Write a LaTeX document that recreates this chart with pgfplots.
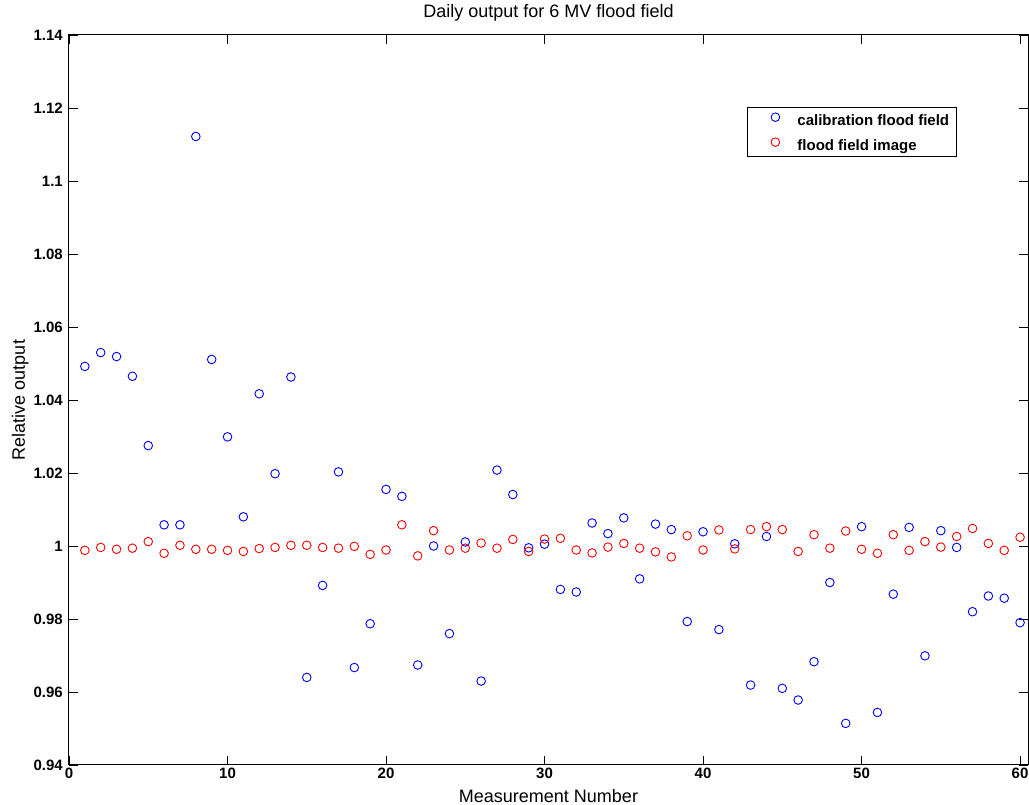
\documentclass[border=0pt]{standalone}
\usepackage{pgfplots}
\pgfplotsset{compat=1.18}
\usepackage{pgfplotstable}
\usepackage{fontspec}
\setmainfont{Liberation Sans}
\pgfplotstableread{
x y
1 1.0492
2 1.0530
3 1.0519
4 1.0465
5 1.0275
6 1.0058
7 1.0058
8 1.1122
9 1.0511
10 1.0299
11 1.0080
12 1.0417
13 1.0198
14 1.0463
15 0.9640
16 0.9892
17 1.0203
18 0.9667
19 0.9787
20 1.0155
21 1.0136
22 0.9674
23 1.0000
24 0.9760
25 1.0011
26 0.9630
27 1.0208
28 1.0141
29 0.9995
30 1.0005
31 0.9881
32 0.9874
33 1.0063
34 1.0034
35 1.0077
36 0.9910
37 1.0060
38 1.0045
39 0.9793
40 1.0039
41 0.9771
42 1.0006
43 0.9619
44 1.0026
45 0.9610
46 0.9578
47 0.9683
48 0.9900
49 0.9514
50 1.0053
51 0.9544
52 0.9868
53 1.0051
54 0.9699
55 1.0042
56 0.9996
57 0.9820
58 0.9863
59 0.9857
60 0.9790
}\calib
\pgfplotstableread{
x y
1 0.9988
2 0.9996
3 0.9991
4 0.9994
5 1.0012
6 0.9980
7 1.0002
8 0.9991
9 0.9991
10 0.9988
11 0.9985
12 0.9993
13 0.9996
14 1.0002
15 1.0002
16 0.9996
17 0.9994
18 0.9999
19 0.9977
20 0.9989
21 1.0058
22 0.9973
23 1.0042
24 0.9989
25 0.9994
26 1.0008
27 0.9994
28 1.0018
29 0.9985
30 1.0019
31 1.0021
32 0.9989
33 0.9981
34 0.9997
35 1.0007
36 0.9994
37 0.9984
38 0.9970
39 1.0028
40 0.9989
41 1.0044
42 0.9992
43 1.0045
44 1.0053
45 1.0045
46 0.9985
47 1.0031
48 0.9994
49 1.0041
50 0.9991
51 0.9980
52 1.0031
53 0.9988
54 1.0012
55 0.9997
56 1.0026
57 1.0048
58 1.0007
59 0.9988
60 1.0024
}\flood
\begin{document}
\begin{tikzpicture}
\begin{axis}[
  scale only axis,
  width=959pt, height=730pt,
  xmin=0, xmax=60.5, ymin=0.94, ymax=1.14,
  xtick={0,10,20,30,40,50,60},
  ytick={0.94,0.96,0.98,1,1.02,1.04,1.06,1.08,1.1,1.12,1.14},
  yticklabels={0.94,0.96,0.98,1,1.02,1.04,1.06,1.08,1.1,1.12,1.14},
  xticklabels={0,10,20,30,40,50,60},
  tick align=inside,
  major tick length=9pt,
  axis line style={black, line width=1pt},
  every tick/.style={black, line width=0.8pt},
  tick label style={font=\fontsize{15}{17}\selectfont\bfseries, inner sep=0pt},
  /pgf/number format/assume math mode=true,
  xticklabel style={anchor=base, yshift=-14pt},
  yticklabel style={anchor=east, xshift=-6pt},
  title={Daily output for 6 MV flood field},
  title style={at={(axis description cs:0.5,1.0164)}, anchor=base, font=\fontsize{18}{21}\selectfont, inner sep=0pt},
  xlabel={Measurement Number},
  xlabel style={at={(axis description cs:0.5,-0.0507)}, anchor=base, font=\fontsize{18}{21}\selectfont, inner sep=0pt},
  ylabel={Relative output},
  ylabel style={at={(axis description cs:-0.0459,0.5)}, anchor=base, rotate=0, font=\fontsize{18}{21}\selectfont, inner sep=0pt},
  legend style={at={(axis description cs:0.707,0.901)}, anchor=north west,
    draw=black, line width=0.8pt, inner xsep=7pt, inner ysep=3pt,
    font=\fontsize{15}{18}\selectfont\bfseries,
    nodes={inner sep=0pt, text height=11pt, text depth=3pt},
    row sep=7pt, column sep=12pt},
  legend cell align=left,
  legend image code/.code={\path[draw=none,fill=none] (-21pt,-3pt) (10pt,11pt); \draw[#1] plot coordinates {(0pt,4.5pt)};},
]
\addplot[only marks, mark=o, mark size=4.3pt, line width=0.9pt, color={rgb,255:red,0;green,0;blue,255}] table[x=x,y=y] {\calib};
\addlegendentry{calibration flood field}
\addplot[only marks, mark=o, mark size=4.3pt, line width=0.9pt, color={rgb,255:red,255;green,0;blue,0}] table[x=x,y=y] {\flood};
\addlegendentry{flood field image}
\end{axis}
\pgfresetboundingbox
\path[use as bounding box] ([xshift=-69pt,yshift=-40pt]current axis.south west) rectangle ([xshift=1pt,yshift=35pt]current axis.north east);
\end{tikzpicture}
\end{document}
